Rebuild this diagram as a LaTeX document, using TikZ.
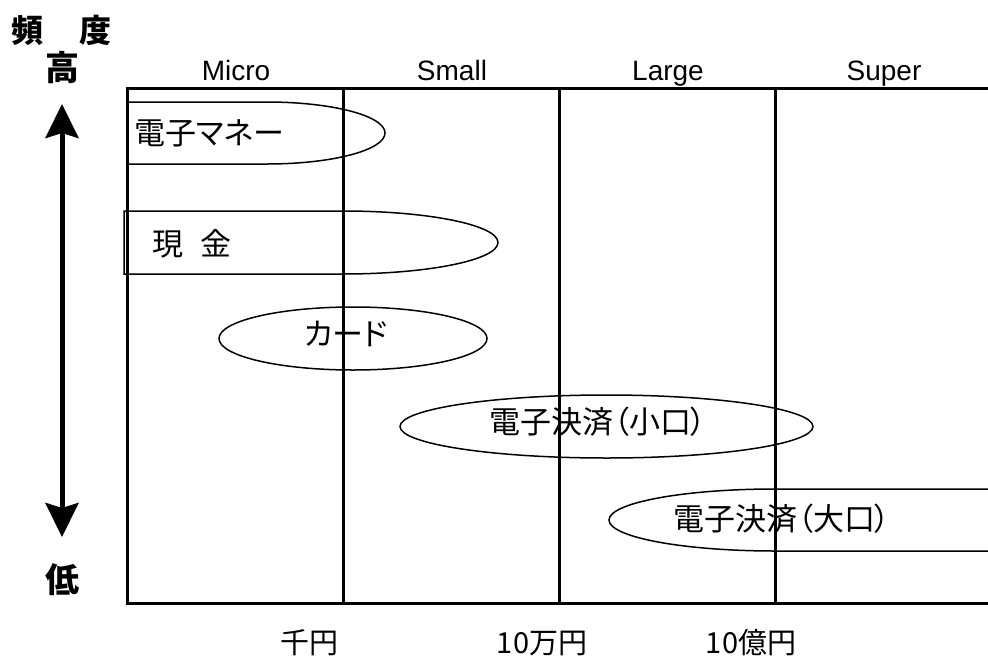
\documentclass[tikz,border=0pt]{standalone}
\usepackage{fontspec}
\setmainfont{Liberation Sans}
\newfontfamily\jpfont[RawFeature=+palt]{Noto Sans CJK JP}
\usetikzlibrary{arrows.meta}

\begin{document}
\begin{tikzpicture}[x=1pt,y=-1pt,
  frame/.style={line width=3pt},
  band/.style={line width=1.5pt},
  head/.style={font=\fontsize{28}{32}\selectfont, inner sep=0pt, anchor=base},
  jp/.style={font=\jpfont\fontsize{31}{35}\selectfont, inner sep=0pt},
  amount/.style={font=\jpfont\fontsize{29}{33}\selectfont, inner sep=0pt, anchor=base},
  axis/.style={font=\jpfont\bfseries\fontsize{34}{38}\selectfont, inner sep=0pt}]

\useasboundingbox (0,0) rectangle (988,664);

% frame and columns
\coordinate (tl) at (127,88);
\coordinate (bl) at (127,603);
\coordinate (tr) at (988,88);
\coordinate (br) at (988,603);
\draw[frame] (tr) -- (tl) -- (bl) -- (br);
\foreach \x in {343,559,775}
  \draw[frame] (\x,88) -- (\x,603);

% column heads and amounts
\foreach \x/\name in {236/Micro, 452/Small, 668/Large, 884/Super}
  \node[head] (h\name) at (\x,80) {\name};
\node[amount] (sen) at (309,653) {千円};
\node[amount] (man) at (542,653) {10万円};
\node[amount] (oku) at (751,653) {10億円};

% frequency axis
\node[axis, font=\jpfont\bfseries\fontsize{32}{36}\selectfont] (freq) at (61.5,30) {頻\hspace{36pt}度};
\node[axis] (high) at (62,68) {高};
\node[axis] (low) at (62,580) {低};
\coordinate (up) at (62,104);
\coordinate (down) at (62,537);
\draw[line width=5pt, {Stealth[length=34pt,width=33pt,inset=5pt]}-{Stealth[length=34pt,width=33pt,inset=5pt]}] (up) -- (down);

% payment ranges
\draw[band] (127,102) -- (267,102) arc[start angle=-90,end angle=90,x radius=118,y radius=31] -- (127,164);
\node[jp,anchor=west] (emoney) at (134,133) {電子マネー};

\draw[band] (124,274) -- (124,211) -- (343,211) arc[start angle=-90,end angle=90,x radius=155,y radius=31.5] -- cycle;
\node[jp] (cash) at (192,244) {現\hspace{18pt}金};

\draw[band] (353,338.5) ellipse[x radius=134,y radius=31.5];
\node[jp] (card) at (346,334) {カード};

\draw[band] (606.5,426.5) ellipse[x radius=206.5,y radius=31.5];
\node[jp] (small) at (598,422) {電子決済（小口）};

\draw[band] (988,489) -- (775,489) arc[start angle=-90,end angle=-270,x radius=166,y radius=31] -- (988,551);
\node[jp] (large) at (782,519) {電子決済（大口）};
\end{tikzpicture}
\end{document}
